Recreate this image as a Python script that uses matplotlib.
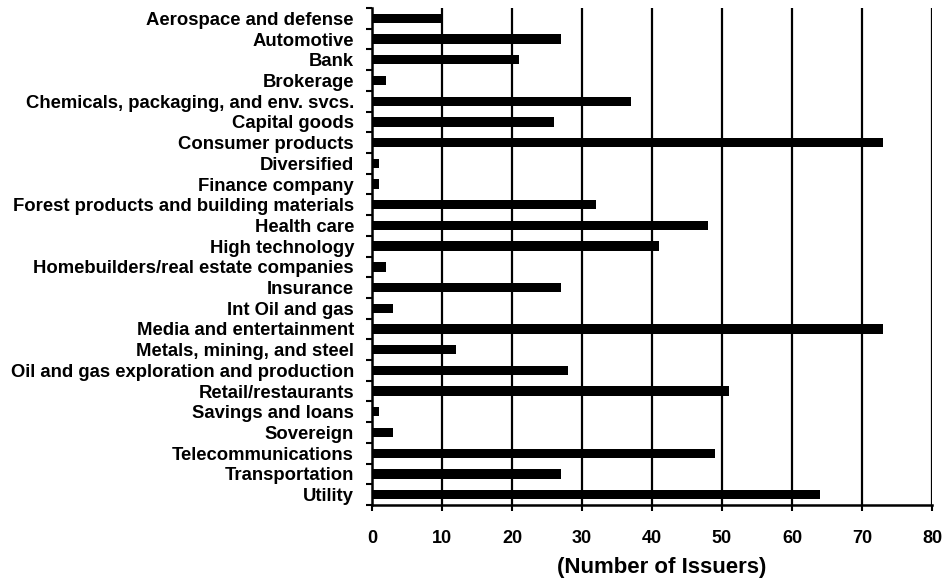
import matplotlib
matplotlib.use("Agg")
import matplotlib.pyplot as plt
import numpy as np

categories = [
    "Aerospace and defense", "Automotive", "Bank", "Brokerage",
    "Chemicals, packaging, and env. svcs.", "Capital goods", "Consumer products",
    "Diversified", "Finance company", "Forest products and building materials",
    "Health care", "High technology", "Homebuilders/real estate companies",
    "Insurance", "Int Oil and gas", "Media and entertainment",
    "Metals, mining, and steel", "Oil and gas exploration and production",
    "Retail/restaurants", "Savings and loans", "Sovereign",
    "Telecommunications", "Transportation", "Utility",
]
issuers = [10, 27, 21, 2, 37, 26, 73, 1, 1, 32, 48, 41, 2, 27, 3, 73, 12, 28,
           51, 1, 3, 49, 27, 64]
x_ticks = [0, 10, 20, 30, 40, 50, 60, 70, 80]
x_label = "(Number of Issuers)"

plt.rcParams['font.family'] = ['Liberation Sans', 'DejaVu Sans']
plt.rcParams['font.weight'] = 'bold'

fig = plt.figure(figsize=(9.51, 5.80), dpi=100)
ax = fig.add_axes([372/951, 1-505/580, (932-372)/951, (505-8)/580])

y = np.arange(len(categories))
ax.barh(y, issuers, height=0.45, color='black', zorder=3)

ax.set_xlim(0, 80)
ax.set_ylim(len(categories)-0.5, -0.5)
ax.set_xticks(x_ticks)
ax.set_xticklabels([str(t) for t in x_ticks], fontsize=13, fontweight='bold')
ax.set_yticks(y)
ax.set_yticklabels(categories, fontsize=13.3, fontweight='bold')
ax.tick_params(axis='y', length=0, pad=13)
ax.set_yticks(np.arange(len(categories)+1)-0.5, minor=True)
ax.tick_params(axis='y', which='minor', length=4, width=1.5, direction='out')
ax.tick_params(axis='x', length=4, width=1.5, direction='out', pad=14)

for t in x_ticks[1:]:
    ax.axvline(t, color='black', lw=1.6, zorder=2)

ax.spines['top'].set_visible(False)
ax.spines['right'].set_visible(False)
ax.spines['left'].set_linewidth(1.8)
ax.spines['bottom'].set_linewidth(1.8)

ax.set_xlabel(x_label, fontsize=16, fontweight='bold')
ax.xaxis.set_label_coords(0.517, -0.104)

fig.savefig("out.png", dpi=100)
